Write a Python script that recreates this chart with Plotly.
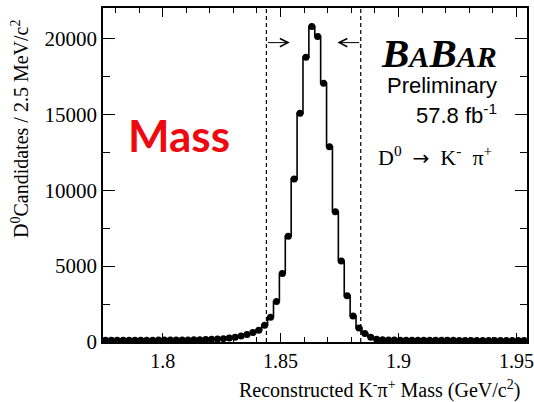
import plotly.graph_objects as go

# ---- data ----
mass_centers = [
    1.77575, 1.77825, 1.78075, 1.78325, 1.78575, 1.78825, 1.79075, 1.79325,
    1.79575, 1.79825, 1.80075, 1.80325, 1.80575, 1.80825, 1.81075, 1.81325,
    1.81575, 1.81825, 1.82075, 1.82325, 1.82575, 1.82825, 1.83075, 1.83325,
    1.83575, 1.83825, 1.84075, 1.84325, 1.84575, 1.84825, 1.85075, 1.85325,
    1.85575, 1.85825, 1.86075, 1.86325, 1.86575, 1.86825, 1.87075, 1.87325,
    1.87575, 1.87825, 1.88075, 1.88325, 1.88575, 1.88825, 1.89075, 1.89325,
    1.89575, 1.89825, 1.90075, 1.90325, 1.90575, 1.90825, 1.91075, 1.91325,
    1.91575, 1.91825, 1.92075, 1.92325, 1.92575, 1.92825, 1.93075, 1.93325,
    1.93575, 1.93825, 1.94075, 1.94325, 1.94575, 1.94825, 1.95075, 1.95325,
]
candidates = [
    120, 118, 115, 120, 118, 122, 120, 118,
    122, 125, 128, 125, 130, 132, 135, 140,
    150, 160, 175, 195, 220, 260, 310, 390,
    490, 620, 780, 1100, 1630, 2670, 4510, 6970,
    10730, 15070, 18760, 20780, 20120, 17040, 12860, 8580,
    5340, 3040, 1715, 920, 554, 310, 175, 145,
    130, 125, 120, 118, 115, 115, 112, 112,
    110, 110, 108, 108, 106, 106, 105, 105,
    104, 104, 103, 102, 102, 101, 100, 100,
]
window_edges = [1.844, 1.884]
arrow_y = 19720
arrow_tails = [1.844, 1.884]
arrow_tips = [1.8539, 1.8741]

x_tick_vals = [1.8, 1.85, 1.9, 1.95]
x_tick_text = ["1.8", "1.85", "1.9", "1.95"]
y_tick_vals = [0, 5000, 10000, 15000, 20000]
y_tick_text = ["0", "5000", "10000", "15000", "20000"]

W, H = 534, 402
L, R, T, B = 103, 527, 8, 342


def px(xp):
    return (xp - L) / (R - L)


def py(yp):
    return (B - yp) / (B - T)


SERIF = "Liberation Serif, Times New Roman, serif"
SANS = "Liberation Sans, Arial, sans-serif"

fig = go.Figure()

fig.add_trace(go.Scatter(
    x=mass_centers, y=candidates, mode="lines+markers",
    line=dict(shape="hvh", color="black", width=1.6),
    marker=dict(color="black", size=7),
    showlegend=False, hoverinfo="x+y",
))

shapes = []
for xe in window_edges:
    shapes.append(dict(type="line", xref="x", yref="paper", x0=xe, x1=xe,
                       y0=0, y1=1, line=dict(color="black", width=1.2, dash="4px,3px")))

annotations = []
for tail, tip in zip(arrow_tails, arrow_tips):
    annotations.append(dict(x=tip, y=arrow_y, ax=tail, ay=arrow_y, xref="x", yref="y",
                            axref="x", ayref="y", text="", showarrow=True,
                            arrowhead=5, arrowsize=1.6, arrowwidth=1, arrowcolor="black",
                            standoff=0, startstandoff=0))

annotations += [
    dict(text="<b><i>B<span style='font-size:30px'>A</span>B<span style='font-size:30px'>AR</span></i></b>",
         x=px(499), y=py(53), xref="paper", yref="paper", xanchor="right", yanchor="middle",
         showarrow=False, font=dict(family=SERIF, size=41, color="black")),
    dict(text="Preliminary", x=px(499), y=py(85), xref="paper", yref="paper",
         xanchor="right", yanchor="middle", showarrow=False,
         font=dict(family=SANS, size=22, color="black")),
    dict(text="57.8 fb<sup>-1</sup>", x=px(499), y=py(114), xref="paper", yref="paper",
         xanchor="right", yanchor="middle", showarrow=False,
         font=dict(family=SANS, size=22, color="black")),
    dict(text="D<sup>0</sup>  <span style='font-family:DejaVu Sans;font-size:20px'>→</span>  K<sup>-</sup>  π<sup>+</sup>",
         x=px(376), y=py(156),
         xref="paper", yref="paper", xanchor="left", yanchor="middle", showarrow=False,
         font=dict(family=SERIF, size=22, color="black")),
    dict(text="<b>Mass</b>", x=px(179), y=py(135), xref="paper", yref="paper",
         xanchor="center", yanchor="middle", showarrow=False,
         font=dict(family="Lato, sans-serif", size=44, color="#ec0a10")),
    dict(text="D<sup>0</sup>Candidates / 2.5 MeV/c<sup>2</sup>", x=px(20), y=py(129),
         xref="paper", yref="paper", xanchor="center", yanchor="middle", textangle=-90,
         showarrow=False, font=dict(family=SERIF, size=20, color="black")),
    dict(text="Reconstructed K<sup>-</sup>π<sup>+</sup> Mass (GeV/c<sup>2</sup>)", x=px(522), y=py(389),
         xref="paper", yref="paper", xanchor="right", yanchor="middle",
         showarrow=False, font=dict(family=SERIF, size=20, color="black")),
]

fig.update_layout(
    width=W, height=H,
    margin=dict(l=L, r=W - R, t=T, b=H - B, pad=0, autoexpand=False),
    paper_bgcolor="white", plot_bgcolor="white",
    shapes=shapes, annotations=annotations,
    font=dict(family=SERIF, color="black"),
)

fig.update_xaxes(
    range=[1.7747, 1.9545], showgrid=False, zeroline=False, automargin=False,
    showline=True, linecolor="black", linewidth=1.5, mirror="allticks",
    ticks="inside", ticklen=9, tickwidth=1.2, tickcolor="black",
    tickvals=x_tick_vals, ticktext=x_tick_text, ticklabeloverflow="allow",
    tickfont=dict(family=SERIF, size=20, color="black"),
    minor=dict(dtick=0.01, tick0=1.8, ticks="inside", ticklen=5, tickwidth=1, tickcolor="black", showgrid=False),
)
fig.update_yaxes(
    range=[0, 22000], showgrid=False, zeroline=False, automargin=False,
    showline=True, linecolor="black", linewidth=1.5, mirror="allticks",
    ticks="inside", ticklen=12, tickwidth=1.2, tickcolor="black",
    tickvals=y_tick_vals, ticktext=y_tick_text, ticklabeloverflow="allow",
    tickfont=dict(family=SERIF, size=21, color="black"),
    minor=dict(dtick=2500, tick0=0, ticks="inside", ticklen=7, tickwidth=1, tickcolor="black", showgrid=False),
)

fig.write_html("out.html", config={"displayModeBar": False},
               post_script="document.body.style.margin='0';document.body.style.padding='0';")
